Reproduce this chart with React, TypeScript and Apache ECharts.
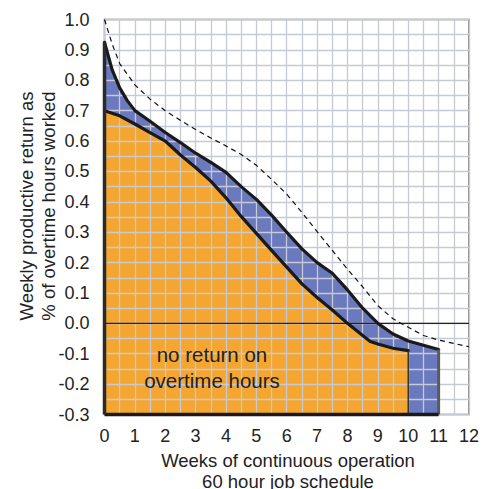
import React, { useEffect, useRef } from "react";
import * as echarts from "echarts";

// Upper bound (dashed) – weekly productive return
const dashedLine: [number, number][] = [
  [0, 1.0], [0.25, 0.92], [0.5, 0.855], [1, 0.785], [1.5, 0.738], [2, 0.7],
  [2.5, 0.668], [3, 0.638], [3.5, 0.61], [4, 0.584], [4.5, 0.556], [5, 0.52],
  [5.5, 0.474], [6, 0.425], [6.5, 0.365], [7, 0.302], [7.5, 0.24], [8, 0.178],
  [8.5, 0.12], [9, 0.058], [9.5, 0.015], [9.8, -0.002], [10.5, -0.04],
  [11, -0.055], [11.5, -0.066], [12, -0.077],
];

// Upper edge of blue band
const blueLine: [number, number][] = [
  [0, 0.925], [0.25, 0.835], [0.5, 0.775], [0.75, 0.733], [1, 0.7],
  [1.5, 0.665], [2, 0.628], [2.5, 0.595], [3, 0.56], [3.5, 0.53], [4, 0.497],
  [4.5, 0.45], [5, 0.408], [5.5, 0.356], [6, 0.3], [6.5, 0.245], [7, 0.2],
  [7.5, 0.165], [8, 0.11], [8.5, 0.05], [9, 0.0], [9.5, -0.035], [10, -0.058],
  [10.5, -0.072], [11, -0.086],
];

// Upper edge of orange area
const orangeLine: [number, number][] = [
  [0, 0.7], [0.5, 0.683], [1, 0.656], [1.5, 0.628], [2, 0.6], [2.5, 0.554],
  [3, 0.513], [3.5, 0.468], [4, 0.413], [4.5, 0.352], [5, 0.296], [5.5, 0.24],
  [6, 0.185], [6.5, 0.13], [7, 0.085], [7.5, 0.044], [8, 0.0], [8.5, -0.04],
  [8.75, -0.06], [9, -0.068], [9.5, -0.082], [10, -0.09],
];

const xTicks = [0, 1, 2, 3, 4, 5, 6, 7, 8, 9, 10, 11, 12];
const yTicks = [-0.3, -0.2, -0.1, 0.0, 0.1, 0.2, 0.3, 0.4, 0.5, 0.6, 0.7, 0.8, 0.9, 1.0];
const yMin = -0.3;
const yMax = 1.0;
const xMax = 12;

const annotation = ["no return on", "overtime hours"];
const yTitle = ["Weekly productive return as", "% of overtime hours worked"];
const xTitle = ["Weeks of continuous operation", "60 hour job schedule"];

const ORANGE = "#F4A630";
const BLUE = "#6B79BE";
const GRID = "#c6cad4";
const FONT = "Liberation Sans, Arial, sans-serif";

export default function App() {
  const ref = useRef<HTMLDivElement>(null);
  useEffect(() => {
    if (!ref.current) return;
    const chart = echarts.init(ref.current, undefined, { renderer: "svg" });
    const last = <T,>(a: T[]) => a[a.length - 1];
    const blueArea = [...blueLine, [last(blueLine)[0], yMin]];
    const orangeArea = [...orangeLine, [last(orangeLine)[0], yMin]];
    const edge = (data: any[], color: string, width: number, z = 5, extra: any = {}) => ({
      type: "line",
      data,
      showSymbol: false,
      symbol: "none",
      clip: false,
      z,
      silent: true,
      lineStyle: { color, width, ...extra },
    });
    chart.setOption({
      animation: false,
      textStyle: { fontFamily: FONT },
      grid: {
        left: 104.5,
        top: 19.5,
        width: 365,
        height: 395,
        show: true,
        borderColor: "#707070",
        borderWidth: 1.5,
        backgroundColor: "transparent",
      },
      xAxis: {
        type: "value",
        min: 0,
        max: xMax,
        interval: 1,
        z: 3,
        axisLine: { show: false },
        axisTick: { show: false },
        axisLabel: {
          fontSize: 18,
          color: "#222",
          margin: 12,
          fontFamily: FONT,
          formatter: (v: number) => (xTicks.includes(v) ? String(v) : ""),
        },
        splitLine: { show: true, lineStyle: { color: GRID, width: 1.3 } },
        minorTick: { show: false, splitNumber: 2 },
        minorSplitLine: { show: true, lineStyle: { color: GRID, width: 1.3 } },
      },
      yAxis: {
        type: "value",
        min: yMin,
        max: yMax,
        interval: 0.1,
        z: 3,
        axisLine: { show: false },
        axisTick: { show: false },
        axisLabel: {
          fontSize: 18,
          color: "#222",
          margin: 15,
          fontFamily: FONT,
          formatter: (v: number) => {
            const t = yTicks.find((y) => Math.abs(y - v) < 1e-6);
            return t === undefined ? "" : t.toFixed(1);
          },
        },
        splitLine: { show: true, lineStyle: { color: GRID, width: 1.3 } },
        minorTick: { show: false, splitNumber: 2 },
        minorSplitLine: { show: true, lineStyle: { color: GRID, width: 1.3 } },
      },
      series: [
        {
          type: "line",
          data: blueArea,
          showSymbol: false,
          symbol: "none",
          z: 1,
          lineStyle: { width: 0 },
          areaStyle: { color: BLUE, opacity: 1, origin: "start" },
        },
        {
          type: "line",
          data: orangeArea,
          showSymbol: false,
          symbol: "none",
          z: 1,
          lineStyle: { width: 0 },
          areaStyle: { color: ORANGE, opacity: 1, origin: "start" },
        },
        edge([[0, 0], [xMax, 0]], "#222", 1.3, 5),
        edge(dashedLine, "#111", 1.2, 5, { type: [5, 4] }),
        edge(blueLine, "#1a1a1a", 3.2, 6, { join: "round", cap: "round" }),
        edge(orangeLine, "#1a1a1a", 3.2, 6, { join: "round", cap: "round" }),
        edge([last(orangeLine), [last(orangeLine)[0], yMin]], "#333", 1.5, 6),
        edge([last(blueLine), [last(blueLine)[0], yMin]], "#5a5a5a", 3, 6),
        edge([[0, yMin], [last(blueLine)[0], yMin]], "#1a1a1a", 3.5, 7),
        edge([[0, yMin], blueLine[0]], "#2a2a2a", 3.5, 7),
      ],
      graphic: [
        {
          type: "text",
          x: 212,
          y: 354,
          z: 10,
          style: { text: annotation[0], font: `20.5px ${FONT}`, fill: "#222", align: "center", verticalAlign: "middle" },
        },
        {
          type: "text",
          x: 212,
          y: 380,
          z: 10,
          style: { text: annotation[1], font: `20.5px ${FONT}`, fill: "#222", align: "center", verticalAlign: "middle" },
        },
        {
          type: "text",
          x: 288,
          y: 460,
          style: { text: xTitle[0], font: `18.5px ${FONT}`, fill: "#222", align: "center", verticalAlign: "middle" },
        },
        {
          type: "text",
          x: 288,
          y: 481,
          style: { text: xTitle[1], font: `18.5px ${FONT}`, fill: "#222", align: "center", verticalAlign: "middle" },
        },
        {
          type: "text",
          x: 26,
          y: 206,
          rotation: Math.PI / 2,
          style: { text: yTitle[0], font: `18.5px ${FONT}`, fill: "#222", align: "center", verticalAlign: "middle" },
        },
        {
          type: "text",
          x: 48,
          y: 206,
          rotation: Math.PI / 2,
          style: { text: yTitle[1], font: `18.5px ${FONT}`, fill: "#222", align: "center", verticalAlign: "middle" },
        },
      ],
    });
    return () => chart.dispose();
  }, []);
  return (
    <div
      ref={ref}
      style={{ position: "fixed", left: 0, top: 0, width: 482, height: 489, background: "#fff" }}
    />
  );
}
